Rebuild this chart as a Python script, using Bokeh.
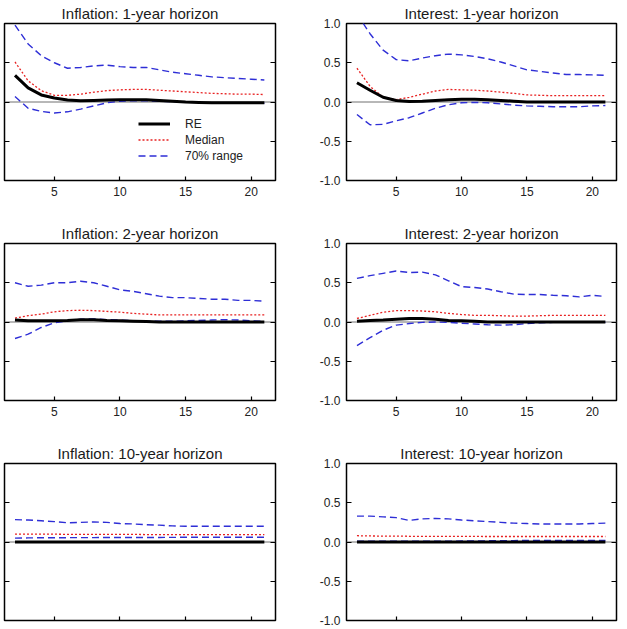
from bokeh.plotting import figure
from bokeh.layouts import column, row
from bokeh.models import (Range1d, FixedTicker, LinearAxis, Span, Legend,
                          LegendItem, ColumnDataSource, LabelSet)
from bokeh.embed import file_html
from bokeh.resources import INLINE

# Forecast horizon (quarters after the shock)
horizon = list(range(2, 22))

# Inflation expectations, 1-year horizon
re_inf1 = [0.34, 0.18, 0.09, 0.05, 0.025, 0.015, 0.02, 0.025, 0.03, 0.03,
           0.03, 0.02, 0.01, 0.0, -0.005, -0.01, -0.01, -0.01, -0.01, -0.01]
med_inf1 = [0.51, 0.27, 0.145, 0.085, 0.085, 0.10, 0.125, 0.145, 0.155, 0.16,
            0.16, 0.15, 0.14, 0.13, 0.12, 0.11, 0.105, 0.10, 0.10, 0.095]
lo_inf1 = [0.07, -0.08, -0.12, -0.14, -0.125, -0.09, -0.05, -0.01, 0.01, 0.015,
           0.015, 0.01, 0.005, 0.0, -0.005, -0.01, -0.015, -0.015, -0.015, -0.015]
hi_inf1 = [0.98, 0.74, 0.59, 0.50, 0.43, 0.44, 0.46, 0.47, 0.45, 0.44,
           0.44, 0.41, 0.38, 0.36, 0.34, 0.32, 0.31, 0.30, 0.29, 0.28]

# Interest-rate expectations, 1-year horizon
re_int1 = [0.245, 0.15, 0.06, 0.02, 0.005, 0.01, 0.02, 0.03, 0.035, 0.035,
           0.03, 0.02, 0.01, 0.0, 0.0, 0.0, 0.0, 0.0, 0.0, 0.0]
med_int1 = [0.43, 0.20, 0.06, 0.03, 0.06, 0.10, 0.14, 0.16, 0.155, 0.15,
            0.14, 0.125, 0.11, 0.09, 0.085, 0.08, 0.08, 0.08, 0.08, 0.08]
lo_int1 = [-0.16, -0.29, -0.285, -0.24, -0.20, -0.14, -0.08, -0.035, -0.01, -0.005,
           -0.01, -0.025, -0.04, -0.05, -0.055, -0.06, -0.06, -0.06, -0.05, -0.045]
hi_int1 = [1.12, 0.87, 0.66, 0.54, 0.525, 0.56, 0.59, 0.61, 0.60, 0.58,
           0.55, 0.51, 0.46, 0.41, 0.39, 0.37, 0.35, 0.35, 0.345, 0.34]

# Inflation expectations, 2-year horizon
re_inf2 = [0.025, 0.015, 0.015, 0.015, 0.02, 0.03, 0.03, 0.02, 0.015, 0.01,
           0.005, 0.0, 0.0, 0.0, 0.0, 0.0, 0.0, 0.0, 0.0, 0.0]
med_inf2 = [0.05, 0.08, 0.10, 0.13, 0.145, 0.15, 0.145, 0.135, 0.125, 0.11,
            0.10, 0.09, 0.09, 0.09, 0.09, 0.09, 0.09, 0.09, 0.09, 0.09]
lo_inf2 = [-0.21, -0.155, -0.07, -0.01, 0.015, 0.035, 0.04, 0.03, 0.025, 0.015,
           0.01, 0.01, 0.01, 0.015, 0.02, 0.025, 0.03, 0.025, 0.015, 0.01]
hi_inf2 = [0.50, 0.455, 0.47, 0.50, 0.50, 0.52, 0.50, 0.455, 0.41, 0.39,
           0.36, 0.33, 0.31, 0.31, 0.30, 0.29, 0.29, 0.275, 0.275, 0.265]

# Interest-rate expectations, 2-year horizon
re_int2 = [0.01, 0.02, 0.025, 0.035, 0.045, 0.045, 0.035, 0.02, 0.015, 0.01,
           0.0, 0.0, 0.0, 0.0, 0.0, 0.0, 0.0, 0.0, 0.0, 0.0]
med_int2 = [0.045, 0.085, 0.125, 0.145, 0.145, 0.14, 0.13, 0.11, 0.095, 0.085,
            0.085, 0.08, 0.075, 0.075, 0.08, 0.085, 0.085, 0.085, 0.085, 0.085]
lo_int2 = [-0.30, -0.20, -0.105, -0.04, -0.02, -0.005, 0.0, -0.005, -0.015, -0.025,
           -0.035, -0.04, -0.035, -0.02, -0.01, -0.005, -0.005, -0.005, -0.005, -0.005]
hi_int2 = [0.555, 0.59, 0.62, 0.65, 0.63, 0.635, 0.60, 0.525, 0.45, 0.44,
           0.42, 0.385, 0.355, 0.35, 0.35, 0.34, 0.335, 0.32, 0.34, 0.325]

# Inflation expectations, 10-year horizon
re_inf10 = [0.0, 0.0, 0.0, 0.0, 0.0, 0.0, 0.0, 0.0, 0.0, 0.0,
            0.0, 0.0, 0.0, 0.0, 0.0, 0.0, 0.0, 0.0, 0.0, 0.0]
med_inf10 = [0.10, 0.10, 0.10, 0.10, 0.097, 0.097, 0.097, 0.097, 0.097, 0.097,
             0.095, 0.095, 0.095, 0.095, 0.095, 0.095, 0.095, 0.095, 0.095, 0.095]
lo_inf10 = [0.05, 0.052, 0.054, 0.055, 0.055, 0.056, 0.056, 0.057, 0.057, 0.058,
            0.058, 0.058, 0.059, 0.06, 0.06, 0.06, 0.06, 0.06, 0.06, 0.06]
hi_inf10 = [0.285, 0.28, 0.27, 0.26, 0.245, 0.25, 0.255, 0.25, 0.235, 0.23,
            0.22, 0.215, 0.205, 0.20, 0.20, 0.20, 0.20, 0.20, 0.20, 0.20]

# Interest-rate expectations, 10-year horizon
re_int10 = [0.0, 0.0, 0.0, 0.0, 0.0, 0.0, 0.0, 0.0, 0.0, 0.0,
            0.0, 0.0, 0.0, 0.0, 0.0, 0.0, 0.0, 0.0, 0.0, 0.0]
med_int10 = [0.08, 0.077, 0.075, 0.075, 0.073, 0.072, 0.072, 0.072, 0.071, 0.071,
             0.07, 0.07, 0.07, 0.07, 0.07, 0.07, 0.07, 0.07, 0.07, 0.07]
lo_int10 = [0.01, 0.01, 0.01, 0.01, 0.01, 0.01, 0.01, 0.01, 0.012, 0.014,
            0.015, 0.016, 0.018, 0.02, 0.02, 0.02, 0.02, 0.02, 0.02, 0.02]
hi_int10 = [0.33, 0.33, 0.32, 0.31, 0.275, 0.295, 0.30, 0.295, 0.28, 0.27,
            0.26, 0.25, 0.24, 0.235, 0.23, 0.23, 0.23, 0.23, 0.235, 0.24]

x_ticks = [5, 10, 15, 20]
x_tick_labels = ["5", "10", "15", "20"]
y_ticks = [-1.0, -0.5, 0.0, 0.5, 1.0]
y_tick_labels = ["-1.0", "-0.5", "0.0", "0.5", "1.0"]

FONT = "Liberation Sans"
BLUE = "#2e2ed6"
RED = "#e82222"


def make_panel(title, re, med, lo, hi, side, bottom_row, legend=False):
    left = side == "left"
    fw = 271 if left else 270
    bl = 4 if left else 36
    br = 35 if left else 11
    bb = 9 if bottom_row else 40

    p = figure(frame_width=fw, frame_height=157,
               x_range=Range1d(1.2, 21.85), y_range=Range1d(-1, 1),
               output_backend="svg", toolbar_location=None, tools="",
               min_border_left=bl, min_border_right=br,
               min_border_top=23, min_border_bottom=bb)
    p.background_fill_color = "white"
    p.border_fill_color = "white"
    p.outline_line_color = "black"
    p.outline_line_width = 1.5
    p.outline_line_alpha = 1.0
    p.xgrid.visible = False
    p.ygrid.visible = False

    p.title.text = title
    p.title.text_font = FONT
    p.title.text_font_size = "15px"
    p.title.text_font_style = "normal"
    p.title.text_color = "#1a1a1a"
    p.title.align = "center"
    p.title.standoff = 4

    # x axis: inward ticks along the bottom edge
    xa = p.xaxis[0]
    xa.ticker = FixedTicker(ticks=x_ticks, minor_ticks=[])
    xa.axis_line_color = None
    xa.major_tick_in = 4
    xa.major_tick_out = 0
    xa.major_tick_line_width = 1.2
    xa.minor_tick_line_color = None
    xa.major_label_text_font = FONT
    xa.major_label_text_font_size = "12px"
    xa.major_label_text_color = "#222222"
    xa.major_label_standoff = 6
    if bottom_row:
        xa.major_label_overrides = {t: "" for t in x_ticks}
        xa.major_label_standoff = 0
    else:
        xa.major_label_overrides = dict(zip(x_ticks, x_tick_labels))

    # y axis: inward ticks on both sides, labels only on the right column
    ya = p.yaxis[0]
    ya.ticker = FixedTicker(ticks=y_ticks, minor_ticks=[])
    ya.axis_line_color = None
    ya.major_tick_in = 5
    ya.major_tick_out = 0
    ya.major_tick_line_width = 1.2
    ya.minor_tick_line_color = None
    ya.major_label_text_font = FONT
    ya.major_label_text_font_size = "12px"
    ya.major_label_text_color = "#222222"
    if left:
        ya.major_label_overrides = {t: "" for t in y_ticks}
        ya.major_label_standoff = 0
    else:
        ya.major_label_overrides = dict(zip(y_ticks, y_tick_labels))
        ya.major_label_standoff = 6

    ra = LinearAxis(ticker=FixedTicker(ticks=y_ticks, minor_ticks=[]),
                    major_label_overrides={t: "" for t in y_ticks},
                    major_label_standoff=0, axis_line_color=None,
                    major_tick_in=5, major_tick_out=0, major_tick_line_width=1.2,
                    minor_tick_line_color=None)
    p.add_layout(ra, "right")

    p.add_layout(Span(location=0, dimension="width", line_color="#707070",
                      line_width=1, level="underlay"))

    src = ColumnDataSource(dict(h=horizon, re=re, med=med, lo=lo, hi=hi))
    r_hi = p.line("h", "hi", source=src, line_color=BLUE, line_width=1.4,
                  line_dash="7 4")
    r_lo = p.line("h", "lo", source=src, line_color=BLUE, line_width=1.4,
                  line_dash="7 4")
    r_med = p.line("h", "med", source=src, line_color=RED, line_width=1.3,
                   line_dash="2 2")
    r_re = p.line("h", "re", source=src, line_color="black", line_width=3)

    if bottom_row:
        # tick labels hanging below the frame
        tsrc = ColumnDataSource(dict(x=x_ticks, y=[-1.0] * len(x_ticks),
                                     t=x_tick_labels))
        p.add_layout(LabelSet(x="x", y="y", text="t", source=tsrc,
                              y_offset=-6, text_align="center",
                              text_baseline="top", text_font=FONT,
                              text_font_size="12px", text_color="#222222"))

    if legend:
        lg = Legend(items=[LegendItem(label="RE", renderers=[r_re]),
                           LegendItem(label="Median", renderers=[r_med]),
                           LegendItem(label="70% range", renderers=[r_hi])],
                    location=(134, 17), padding=0, margin=0, spacing=1,
                    glyph_width=32, glyph_height=15, label_height=15,
                    label_standoff=15, label_text_font=FONT,
                    label_text_font_size="12px", label_text_color="#222222",
                    border_line_color=None, background_fill_alpha=0)
        p.add_layout(lg)
    return p


p1 = make_panel("Inflation: 1-year horizon", re_inf1, med_inf1, lo_inf1, hi_inf1,
                "left", False, legend=True)
p2 = make_panel("Interest: 1-year horizon", re_int1, med_int1, lo_int1, hi_int1,
                "right", False)
p3 = make_panel("Inflation: 2-year horizon", re_inf2, med_inf2, lo_inf2, hi_inf2,
                "left", False)
p4 = make_panel("Interest: 2-year horizon", re_int2, med_int2, lo_int2, hi_int2,
                "right", False)
p5 = make_panel("Inflation: 10-year horizon", re_inf10, med_inf10, lo_inf10, hi_inf10,
                "left", True)
p6 = make_panel("Interest: 10-year horizon", re_int10, med_int10, lo_int10, hi_int10,
                "right", True)

layout = column(row(p1, p2), row(p3, p4), row(p5, p6))

open("out.html", "w").write(file_html(layout, INLINE))
